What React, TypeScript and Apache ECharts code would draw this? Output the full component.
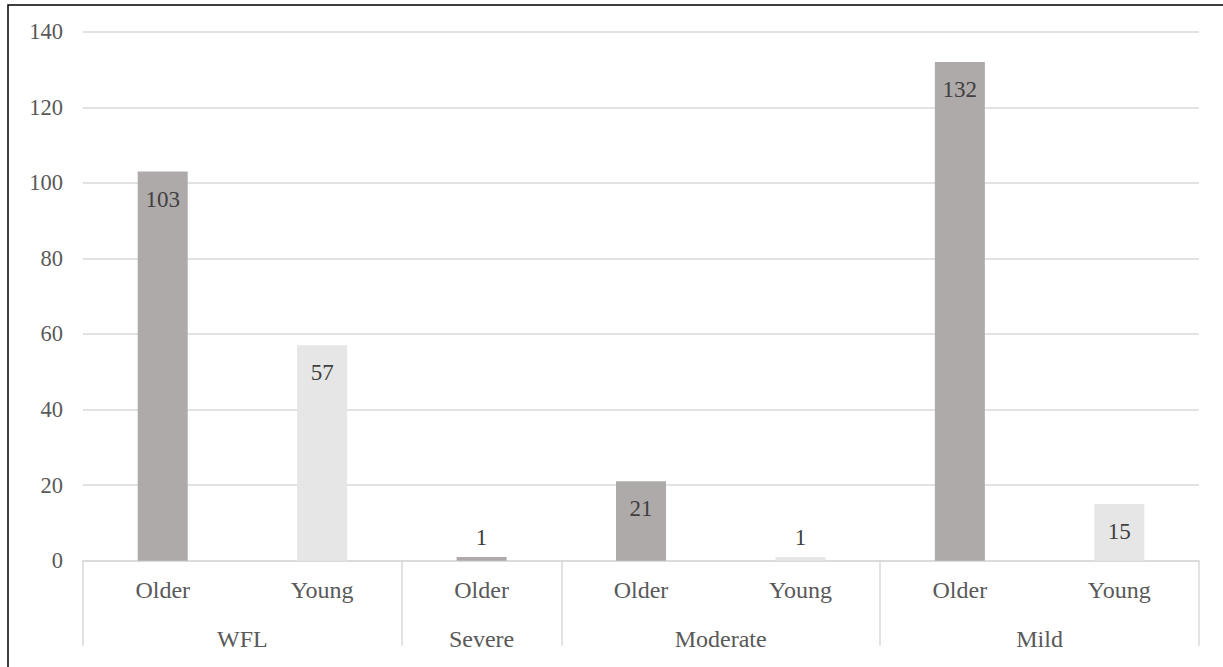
import React, { useEffect, useRef } from "react";
import * as echarts from "echarts";

const subLabels = ["Older", "Young", "Older", "Older", "Young", "Older", "Young"];
const values = [103, 57, 1, 21, 1, 132, 15];
const groupNames = ["WFL", "Severe", "Moderate", "Mild"];
const groupSizes = [2, 1, 2, 2];
const yTicks = { min: 0, max: 140, interval: 20 };

const COLOR_OLDER = "#AEAAAA";
const COLOR_YOUNG = "#E7E6E6";
const FONT = '"Liberation Serif", "Times New Roman", serif';

export default function App() {
  const ref = useRef<HTMLDivElement>(null);

  useEffect(() => {
    if (!ref.current) return;
    const chart = echarts.init(ref.current, undefined, { renderer: "svg" });

    // second-level axis: half-band points (boundaryGap false)
    const n = subLabels.length;
    const halfData: string[] = new Array(2 * n + 1).fill("");
    const boundaries = new Set<number>();
    let start = 0;
    groupNames.forEach((g, i) => {
      boundaries.add(2 * start);
      halfData[2 * start + groupSizes[i]] = g;
      start += groupSizes[i];
    });
    boundaries.add(2 * start);

    const data = values.map((v, i) => ({
      value: v,
      itemStyle: { color: subLabels[i] === "Older" ? COLOR_OLDER : COLOR_YOUNG },
      label: v < 10 ? { position: "top", distance: 8 } : { position: "insideTop", distance: 16 },
    }));

    chart.setOption({
      animation: false,
      graphic: [
        {
          type: "rect",
          shape: { x: 8, y: 5, width: 1400, height: 900 },
          style: { fill: "none", stroke: "#000", lineWidth: 1.5 },
          silent: true,
        },
      ],
      grid: { left: 83, right: 24, top: 31.7, bottom: 106.3, containLabel: false },
      xAxis: [
        {
          type: "category",
          data: subLabels,
          position: "bottom",
          axisLine: { show: true, lineStyle: { color: "#D9D9D9", width: 1.5 } },
          axisTick: { show: false },
          axisLabel: { color: "#595959", fontFamily: FONT, fontSize: 24, margin: 17, interval: 0 },
        },
        {
          type: "category",
          data: halfData,
          boundaryGap: false,
          position: "bottom",
          axisLine: { show: false },
          axisTick: {
            show: true,
            length: 85,
            interval: (idx: number) => boundaries.has(idx),
            lineStyle: { color: "#D9D9D9", width: 1.5 },
          },
          axisLabel: {
            color: "#595959",
            fontFamily: FONT,
            fontSize: 24,
            margin: 66,
            interval: (_idx: number, val: string) => val !== "",
          },
          splitLine: { show: false },
        },
      ],
      yAxis: {
        type: "value",
        min: yTicks.min,
        max: yTicks.max,
        interval: yTicks.interval,
        axisLine: { show: false },
        axisTick: { show: false },
        splitLine: { lineStyle: { color: "#D9D9D9", width: 1.5 } },
        axisLabel: { color: "#595959", fontFamily: FONT, fontSize: 22.5, margin: 20 },
      },
      series: [
        {
          type: "bar",
          xAxisIndex: 0,
          data,
          barWidth: 50,
          label: {
            show: true,
            color: "#404040",
            fontFamily: FONT,
            fontSize: 23,
          },
        },
      ],
    });

    return () => chart.dispose();
  }, []);

  return (
    <div
      ref={ref}
      style={{ position: "absolute", left: 0, top: 0, width: 1223, height: 667, background: "#fff" }}
    />
  );
}
